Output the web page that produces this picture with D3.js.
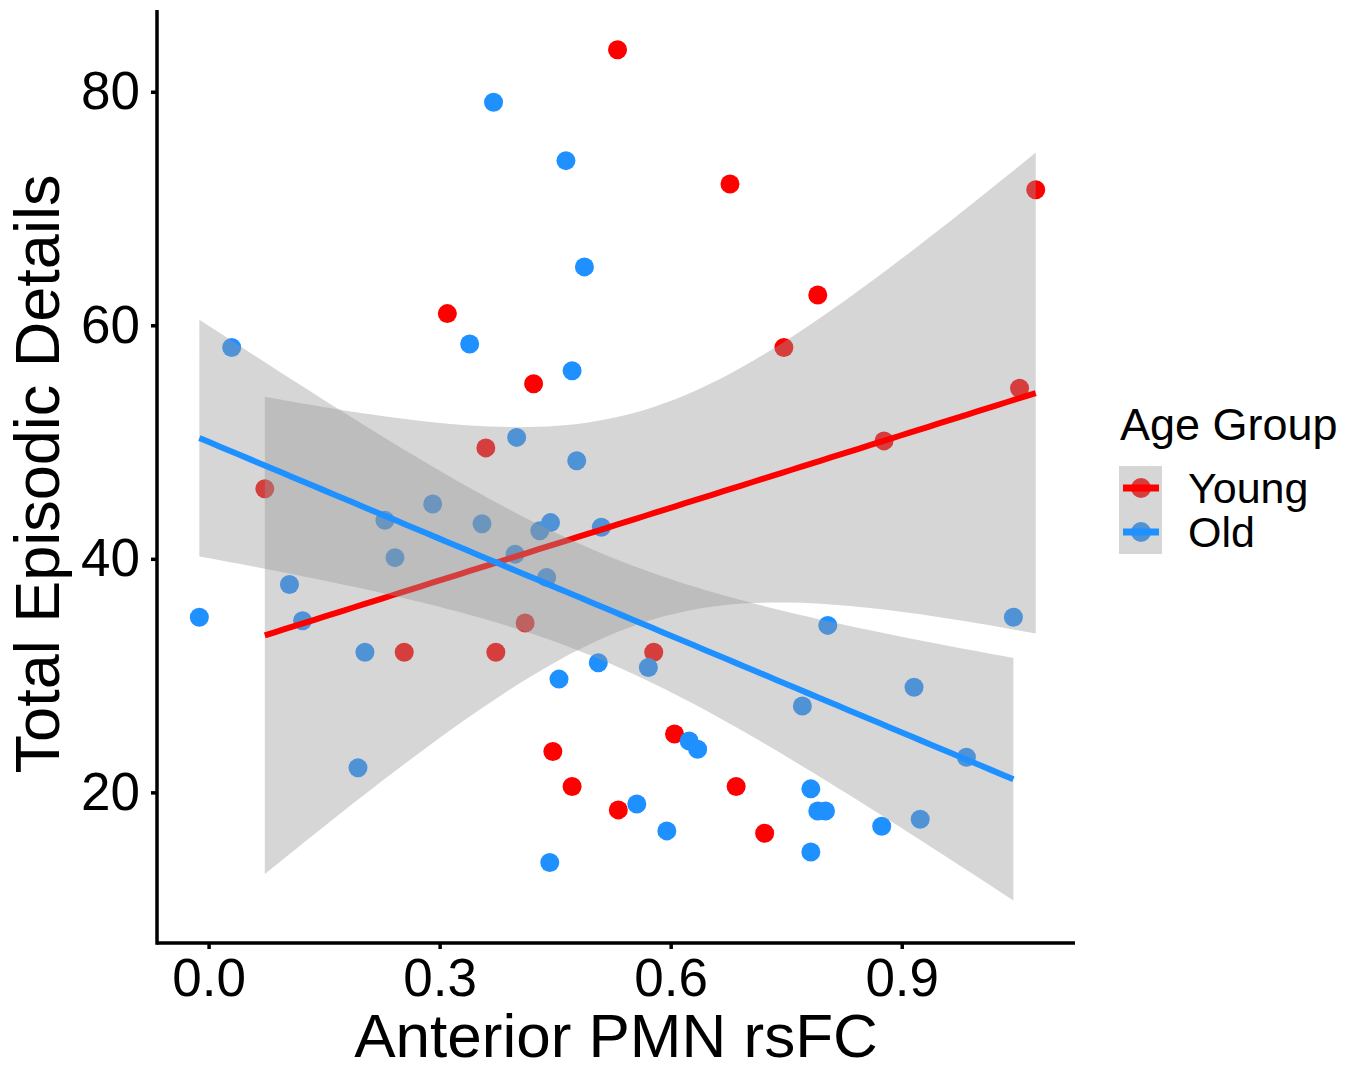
<!DOCTYPE html>
<html>
<head>
<meta charset="utf-8">
<script src="https://cdn.jsdelivr.net/npm/d3@7"></script>
<style>
  body { margin: 0; background: #fff; }
  text { font-family: "Liberation Sans", Arial, sans-serif; fill: #000; }
</style>
</head>
<body>
<svg id="chart" width="1360" height="1070"></svg>
<script>
// Young group (red)
var youngX = [0.531, 0.677, 1.074, 0.791, 0.310, 0.747, 0.422, 1.053, 0.360, 0.877, 0.073,
              0.411, 0.254, 0.373, 0.578, 0.605, 0.447, 0.472, 0.685, 0.532, 0.722];
var youngY = [83.6, 72.1, 71.6, 62.6, 61.0, 58.1, 55.0, 54.6, 49.5, 50.1, 46.0,
              34.5, 32.0, 32.0, 32.0, 25.0, 23.5, 20.5, 20.5, 18.5, 16.5];

// Old group (blue)
var oldX = [0.370, 0.464, 0.488, 0.030, 0.339, 0.472, 0.400, 0.478, 0.291, 0.229, 0.355,
            0.444, 0.430, 0.510, 0.242, 0.398, 0.439, 0.105, 0.122, -0.012, 1.045,
            0.804, 0.203, 0.506, 0.571, 0.455, 0.916, 0.771, 0.624, 0.635, 0.984,
            0.194, 0.782, 0.791, 0.801, 0.556, 0.924, 0.595, 0.874, 0.782, 0.443];
var oldY = [79.1, 74.1, 65.0, 58.1, 58.4, 56.1, 50.4, 48.4, 44.7, 43.3, 43.0,
            43.1, 42.4, 42.7, 40.1, 40.4, 38.4, 37.8, 34.7, 35.0, 35.0,
            34.3, 32.0, 31.1, 30.7, 29.7, 29.0, 27.4, 24.4, 23.7, 23.0,
            22.1, 20.3, 18.4, 18.4, 19.0, 17.7, 16.7, 17.1, 14.9, 14.0];

var groups = ["Young", "Old"];
var groupColors = ["#FF0000", "#1E90FF"];
var xTicks = [0.0, 0.3, 0.6, 0.9];
var yTicks = [20, 40, 60, 80];

// t quantiles (0.975) for n - 2 degrees of freedom
var tQuantile = {19: 2.093, 39: 2.0227};

var svg = d3.select("#chart");

var x = d3.scaleLinear().domain([-0.067, 1.125]).range([157, 1075]);
var y = d3.scaleLinear().domain([7.1, 87.0]).range([943, 10]);

// linear fit with 95% confidence band, like geom_smooth(method = "lm")
function fitLm(xs, ys){
    var n = xs.length;
    var mx = d3.mean(xs), my = d3.mean(ys);
    var sxx = 0, sxy = 0;
    for (var i = 0; i < n; i++){
        sxx += (xs[i] - mx) * (xs[i] - mx);
        sxy += (xs[i] - mx) * (ys[i] - my);
    }
    var b = sxy / sxx, a = my - b * mx;
    var sse = 0;
    for (var j = 0; j < n; j++){
        var r = ys[j] - (a + b * xs[j]);
        sse += r * r;
    }
    var s = Math.sqrt(sse / (n - 2));
    var t = tQuantile[n - 2];
    var lo = d3.min(xs), hi = d3.max(xs);
    var pts = d3.range(80).map(function(k){
        var xv = lo + (hi - lo) * k / 79;
        var fit = a + b * xv;
        var se = s * Math.sqrt(1 / n + (xv - mx) * (xv - mx) / sxx);
        return {x: xv, fit: fit, lower: fit - t * se, upper: fit + t * se};
    });
    return pts;
}

var data = [
    {name: "Young", xs: youngX, ys: youngY, color: groupColors[0]},
    {name: "Old", xs: oldX, ys: oldY, color: groupColors[1]}
];

// points first
data.forEach(function(g){
    svg.append("g").selectAll("circle")
        .data(d3.range(g.xs.length))
        .enter().append("circle")
        .attr("cx", function(i){ return x(g.xs[i]); })
        .attr("cy", function(i){ return y(g.ys[i]); })
        .attr("r", 9.5)
        .style("fill", g.color);
});

var area = d3.area()
    .x(function(d){ return x(d.x); })
    .y0(function(d){ return y(d.lower); })
    .y1(function(d){ return y(d.upper); });

var line = d3.line()
    .x(function(d){ return x(d.x); })
    .y(function(d){ return y(d.fit); });

// smooth per group: ribbon then line
data.forEach(function(g){
    var pts = fitLm(g.xs, g.ys);
    svg.append("path")
        .attr("d", area(pts))
        .style("fill", "#999999")
        .style("fill-opacity", 0.4);
    svg.append("path")
        .attr("d", line(pts))
        .style("fill", "none")
        .style("stroke", g.color)
        .style("stroke-width", 6);
});

// axes
var xAxis = svg.append("g")
    .attr("transform", "translate(0,943)")
    .call(d3.axisBottom(x).tickValues(xTicks).tickFormat(d3.format(".1f"))
        .tickSize(6).tickSizeOuter(0).tickPadding(9));
var yAxis = svg.append("g")
    .attr("transform", "translate(157,0)")
    .call(d3.axisLeft(y).tickValues(yTicks)
        .tickSize(6).tickSizeOuter(0).tickPadding(11));

[xAxis, yAxis].forEach(function(ax){
    ax.select(".domain").style("stroke", "#000").style("stroke-width", 3.5);
    ax.selectAll(".tick line").style("stroke", "#000").style("stroke-width", 3.5);
    ax.selectAll(".tick text")
        .style("font-family", "'Liberation Sans', Arial, sans-serif")
        .style("font-size", "53px")
        .style("fill", "#000");
});
// the domain path should start at the corner
xAxis.select(".domain").attr("d", "M157,0H1075");
yAxis.select(".domain").attr("d", "M0,10V944.75");

svg.append("text")
    .attr("x", 616)
    .attr("y", 1057)
    .attr("text-anchor", "middle")
    .style("font-size", "62px")
    .text("Anterior PMN rsFC");

svg.append("text")
    .attr("transform", "translate(59,474) rotate(-90)")
    .attr("text-anchor", "middle")
    .style("font-size", "63px")
    .text("Total Episodic Details");

// legend
var legend = svg.append("g");
legend.append("text")
    .attr("x", 1120)
    .attr("y", 440)
    .style("font-size", "45px")
    .text("Age Group");

data.forEach(function(g, i){
    var cy = 488 + i * 44;
    var key = legend.append("g");
    key.append("circle")
        .attr("cx", 1141)
        .attr("cy", cy)
        .attr("r", 10)
        .style("fill", g.color);
    key.append("rect")
        .attr("x", 1119)
        .attr("y", cy - 22)
        .attr("width", 43)
        .attr("height", 44)
        .style("fill", "#999999")
        .style("fill-opacity", 0.4);
    key.append("line")
        .attr("x1", 1123).attr("x2", 1159)
        .attr("y1", cy).attr("y2", cy)
        .style("stroke", g.color)
        .style("stroke-width", 7);
    legend.append("text")
        .attr("x", 1188)
        .attr("y", cy + 15)
        .style("font-size", "43px")
        .text(groups[i]);
});
</script>
</body>
</html>
